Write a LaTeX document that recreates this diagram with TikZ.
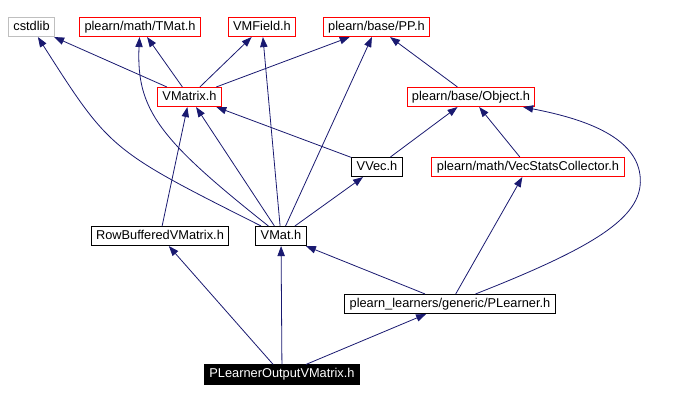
\documentclass[tikz,border=0pt]{standalone}
\usepackage{fontspec}
\setmainfont{Liberation Sans}
\usetikzlibrary{arrows.meta}

\definecolor{edgeblue}{HTML}{191970}
\definecolor{boxred}{HTML}{FF0000}
\definecolor{boxgray}{HTML}{BFBFBF}

\begin{document}
\begin{tikzpicture}[
    x=0.75pt, y=-0.75pt,
    file/.style={draw=black, line width=0.75pt, inner xsep=3.7pt, inner ysep=0pt,
        minimum height=14.3pt, text height=7pt, text depth=2pt,
        font=\fontsize{9.6}{11}\selectfont},
    undoc/.style={file, draw=boxred},
    sysfile/.style={file, draw=boxgray},
    current/.style={file, fill=black, text=white},
    dep/.style={draw=edgeblue, line width=0.6pt, -{Triangle[length=7.5pt,width=5.5pt]}},
]
\useasboundingbox (0,0) rectangle (682,401);

% headers
\node[sysfile] (cstdlib)  at (31.5,27)  {cstdlib};
\node[undoc]   (tmat)     at (140,27)   {plearn/math/TMat.h};
\node[undoc]   (vmfield)  at (262,27)   {VMField.h};
\node[undoc]   (pp)       at (376.5,27) {plearn/base/PP.h};
\node[undoc]   (vmatrix)  at (189.5,97) {VMatrix.h};
\node[undoc]   (object)   at (471,97)   {plearn/base/Object.h};
\node[file]    (vvec)     at (377,167)  {VVec.h};
\node[undoc]   (vecstats) at (528,167)  {plearn/math/VecStatsCollector.h};
\node[file]    (rowbuf)   at (160,236)  {RowBufferedVMatrix.h};
\node[file]    (vmat)     at (281,236)  {VMat.h};
\node[file]    (plearner) at (450,304)  {plearn\_learners/generic/PLearner.h};
\node[current] (plovm)    at (282,374.5) {PLearnerOutputVMatrix.h};

% includes
\foreach \src/\dst in {
    vmatrix/cstdlib, vmatrix/tmat, vmatrix/vmfield, vmatrix/pp,
    vmat/vmfield, vmat/pp, vmat/vmatrix, vmat/vvec,
    vvec/vmatrix, vvec/object, object/pp, vecstats/object,
    rowbuf/vmatrix, plearner/vmat, plearner/vecstats,
    plovm/rowbuf, plovm/vmat, plovm/plearner} {
    \draw[dep] (\src) -- (\dst);
}
\draw[dep] (vmat) .. controls (110,150) .. (cstdlib);
\draw[dep] (vmat) .. controls (160,140) and (136,110) .. (tmat);
\draw[dep] (plearner) .. controls (600,245) and (645,215) .. (640,175)
    .. controls (635,135) and (580,118) .. (object);
\end{tikzpicture}
\end{document}
